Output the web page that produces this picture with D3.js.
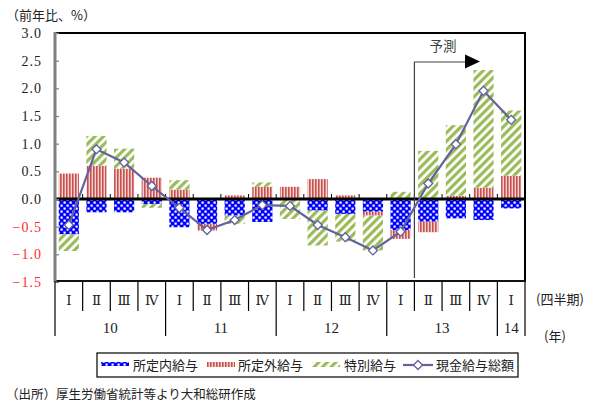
<!DOCTYPE html>
<html>
<head>
<meta charset="utf-8">
<script src="https://cdn.jsdelivr.net/npm/d3@7"></script>
<style>
  html, body { margin: 0; padding: 0; background: #fff; }
  svg { display: block; }
  .jp { font-family: "Noto Sans CJK JP", "Noto Sans", sans-serif; }
  .num { font-family: "Liberation Serif", "DejaVu Serif", serif; }
</style>
</head>
<body>
<svg id="chart" width="590" height="403"></svg>
<script>
// Quarter labels and year groups (2010 Q1 - 2014 Q1)
const quarterLabels = ["Ⅰ","Ⅱ","Ⅲ","Ⅳ","Ⅰ","Ⅱ","Ⅲ","Ⅳ","Ⅰ","Ⅱ","Ⅲ","Ⅳ","Ⅰ","Ⅱ","Ⅲ","Ⅳ","Ⅰ"];
const yearLabels = ["10","11","12","13","14"];
const yearSpans = [4, 4, 4, 4, 1];

// Contributions to year-on-year change (%pt)
const scheduledPay = [-0.64, -0.24, -0.24, -0.09, -0.51, -0.45, -0.30, -0.415, 0.02, -0.21, -0.27, -0.23, -0.56, -0.41, -0.35, -0.38, -0.17];
const overtimePay  = [0.46, 0.60, 0.55, 0.385, 0.17, -0.12, 0.065, 0.22, 0.20, 0.36, 0.065, -0.07, -0.16, -0.19, 0.06, 0.205, 0.42];
const specialPay   = [-0.30, 0.54, 0.36, -0.07, 0.17, 0.02, -0.15, 0.08, -0.36, -0.63, -0.50, -0.63, 0.13, 0.87, 1.275, 2.125, 1.18];
// Total cash earnings (%)
const totalPay     = [-0.47, 0.90, 0.66, 0.235, -0.16, -0.56, -0.38, -0.11, -0.125, -0.47, -0.69, -0.93, -0.59, 0.28, 0.99, 1.955, 1.43];

const yTicks = [3.0, 2.5, 2.0, 1.5, 1.0, 0.5, 0.0, -0.5, -1.0, -1.5];
const forecastStart = 13; // forecast begins at 13 Q2
const seriesNames = ["所定内給与", "所定外給与", "特別給与", "現金給与総額"];

const svg = d3.select("#chart");
const M = { left: 55, right: 525, top: 33, bottom: 281 };

const idx = d3.range(quarterLabels.length);
const x = d3.scaleBand().domain(idx).range([M.left, M.right]).paddingInner(0.27).paddingOuter(0.135);
const step = x.step();
const y = d3.scaleLinear().domain([-1.5, 3.0]).range([M.bottom + 1, M.top]);

// ---- fill patterns ----
const defs = svg.append("defs");
const pBlue = defs.append("pattern").attr("id", "pBlue").attr("patternUnits", "userSpaceOnUse")
  .attr("width", 6).attr("height", 6);
pBlue.append("rect").attr("width", 6).attr("height", 6).attr("fill", "#0000ff");
pBlue.append("rect").attr("x", 0.5).attr("y", 0.5).attr("width", 2.2).attr("height", 2.2).attr("fill", "#fff");
pBlue.append("rect").attr("x", 3.5).attr("y", 3.5).attr("width", 2.2).attr("height", 2.2).attr("fill", "#fff");

const pRed = defs.append("pattern").attr("id", "pRed").attr("patternUnits", "userSpaceOnUse")
  .attr("width", 3).attr("height", 6);
pRed.append("rect").attr("width", 3).attr("height", 6).attr("fill", "#f2d4d3");
pRed.append("rect").attr("width", 1.6).attr("height", 6).attr("fill", "#c9504d");

const pGreen = defs.append("pattern").attr("id", "pGreen").attr("patternUnits", "userSpaceOnUse")
  .attr("width", 6).attr("height", 6).attr("patternTransform", "rotate(45)");
pGreen.append("rect").attr("width", 6).attr("height", 6).attr("fill", "#fff");
pGreen.append("rect").attr("width", 3.2).attr("height", 6).attr("fill", "#9bbb59");

const fills = ["url(#pBlue)", "url(#pRed)", "url(#pGreen)"];
const lineColor = "#62629c";

// ---- stacked bars (diverging) ----
const rows = idx.map(i => ({ s: scheduledPay[i], o: overtimePay[i], p: specialPay[i] }));
const stack = d3.stack().keys(["s", "o", "p"]).offset(d3.stackOffsetDiverging);
const layers = stack(rows);

const barG = svg.append("g");
layers.forEach((layer, k) => {
  barG.append("g").attr("fill", fills[k])
    .selectAll("rect").data(layer).join("rect")
    .attr("x", (d, i) => x(i))
    .attr("width", x.bandwidth())
    .attr("y", d => y(Math.max(d[0], d[1])))
    .attr("height", d => Math.abs(y(d[0]) - y(d[1])));
});

// ---- frame and axes ----
svg.append("line").attr("x1", M.left).attr("x2", M.right + 1).attr("y1", M.top).attr("y2", M.top)
  .attr("stroke", "#000").attr("stroke-width", 2);
svg.append("line").attr("x1", M.right).attr("x2", M.right).attr("y1", M.top).attr("y2", M.bottom)
  .attr("stroke", "#000").attr("stroke-width", 2);
svg.append("line").attr("x1", M.left).attr("x2", M.right + 1).attr("y1", M.bottom).attr("y2", M.bottom)
  .attr("stroke", "#111").attr("stroke-width", 2);

// zero line with small category ticks
svg.append("line").attr("x1", M.left).attr("x2", M.right).attr("y1", y(0)).attr("y2", y(0))
  .attr("stroke", "#000").attr("stroke-width", 3);
svg.append("g").selectAll("line").data(d3.range(1, quarterLabels.length)).join("line")
  .attr("x1", i => M.left + i * step).attr("x2", i => M.left + i * step)
  .attr("y1", y(0)).attr("y2", y(0) - 5)
  .attr("stroke", "#000").attr("stroke-width", 1);

// left value axis
const yAxis = d3.axisLeft(y).tickValues(yTicks).tickSize(-4).tickPadding(13)
  .tickFormat(d3.format(".1f"));
const yG = svg.append("g").attr("transform", `translate(${M.left},0)`).call(yAxis);
yG.select(".domain").attr("stroke", "#808080").attr("stroke-width", 3)
  .attr("d", `M0,${M.top - 1}V${M.bottom + 1}`);
yG.selectAll(".tick line").attr("stroke", "#808080").attr("stroke-width", 1.2);
yG.selectAll(".tick text")
  .attr("class", "num")
  .attr("font-size", 14)
  .attr("letter-spacing", "1px")
  .attr("fill", d => d < 0 ? "#ff2a2a" : "#222")
  .text(d => d < 0 ? "−" + d3.format(".1f")(-d) : d3.format(".1f")(d));

svg.append("text").attr("class", "jp").attr("x", 6).attr("y", 20)
  .attr("font-size", 13).attr("fill", "#222").text("（前年比、%）");

// ---- forecast marker ----
const fx = M.left + forecastStart * step;
svg.append("path")
  .attr("d", `M${fx},278V62H467`)
  .attr("fill", "none").attr("stroke", "#404040").attr("stroke-width", 1.2);
svg.append("path").attr("d", "M465,54.5L480,61.5L465,68.5Z").attr("fill", "#000");
svg.append("text").attr("class", "jp").attr("x", 443).attr("y", 51).attr("text-anchor", "middle")
  .attr("font-size", 13.5).attr("fill", "#404040").text("予測");

// ---- total line with diamond markers ----
const line = d3.line().x((d, i) => x(i) + x.bandwidth() / 2).y(d => y(d));
svg.append("path").datum(totalPay).attr("d", line)
  .attr("fill", "none").attr("stroke", lineColor).attr("stroke-width", 2.2);
const diamond = d3.symbol().type(d3.symbolSquare).size(40);
svg.append("g").selectAll("path").data(totalPay).join("path")
  .attr("d", diamond)
  .attr("transform", (d, i) => `translate(${x(i) + x.bandwidth() / 2},${y(d)}) rotate(45)`)
  .attr("fill", "#fff").attr("stroke", lineColor).attr("stroke-width", 1.3);

// ---- multi-level category labels ----
const catG = svg.append("g");
catG.selectAll("line.q").data(d3.range(0, quarterLabels.length + 1)).join("line")
  .attr("x1", i => M.left + i * step).attr("x2", i => M.left + i * step)
  .attr("y1", M.bottom).attr("y2", 311)
  .attr("stroke", "#000").attr("stroke-width", 1.2);
catG.selectAll("text.q").data(quarterLabels).join("text")
  .attr("class", "num")
  .attr("x", (d, i) => x(i) + x.bandwidth() / 2).attr("y", 305)
  .attr("text-anchor", "middle").attr("font-size", 13.5).attr("fill", "#222")
  .text(d => d);

const yearStarts = yearSpans.map((s, k) => d3.sum(yearSpans.slice(0, k)));
const yearBounds = yearStarts.concat([quarterLabels.length]);
catG.selectAll("line.y").data(yearBounds).join("line")
  .attr("x1", i => M.left + i * step).attr("x2", i => M.left + i * step)
  .attr("y1", 311).attr("y2", 336)
  .attr("stroke", "#000").attr("stroke-width", 1.2);
catG.selectAll("text.y").data(yearLabels).join("text")
  .attr("class", "num")
  .attr("x", (d, k) => M.left + (yearStarts[k] + yearSpans[k] / 2) * step).attr("y", 333)
  .attr("text-anchor", "middle").attr("font-size", 15).attr("fill", "#222")
  .text(d => d);

svg.append("text").attr("class", "jp").attr("x", 536).attr("y", 304)
  .attr("font-size", 13).attr("fill", "#222").text("(四半期)");
svg.append("text").attr("class", "jp").attr("x", 544).attr("y", 341)
  .attr("font-size", 13).attr("fill", "#222").text("(年)");

// ---- legend ----
const lg = svg.append("g");
lg.append("rect").attr("x", 97).attr("y", 353).attr("width", 421).attr("height", 24)
  .attr("fill", "#fff").attr("stroke", "#000").attr("stroke-width", 1.2);
const legendItems = [
  { name: seriesNames[0], sx: 101, tx: 133, kind: 0 },
  { name: seriesNames[1], sx: 207, tx: 238, kind: 1 },
  { name: seriesNames[2], sx: 312, tx: 344, kind: 2 },
  { name: seriesNames[3], sx: 403, tx: 436, kind: 3 }
];
legendItems.forEach(it => {
  if (it.kind < 3) {
    lg.append("rect").attr("x", it.sx).attr("y", 362).attr("width", 28).attr("height", it.kind === 0 ? 4 : 5)
      .attr("fill", fills[it.kind]);
  } else {
    lg.append("line").attr("x1", it.sx).attr("x2", it.sx + 30).attr("y1", 365).attr("y2", 365)
      .attr("stroke", lineColor).attr("stroke-width", 2.2);
    lg.append("path").attr("d", diamond)
      .attr("transform", `translate(${it.sx + 15},365) rotate(45)`)
      .attr("fill", "#fff").attr("stroke", lineColor).attr("stroke-width", 1.3);
  }
  lg.append("text").attr("class", "jp").attr("x", it.tx).attr("y", 370)
    .attr("font-size", 13).attr("fill", "#222").text(it.name);
});

// ---- source note ----
svg.append("text").attr("class", "jp").attr("x", 6).attr("y", 399)
  .attr("font-size", 12.5).attr("fill", "#222").text("（出所）厚生労働省統計等より大和総研作成");
</script>
</body>
</html>
